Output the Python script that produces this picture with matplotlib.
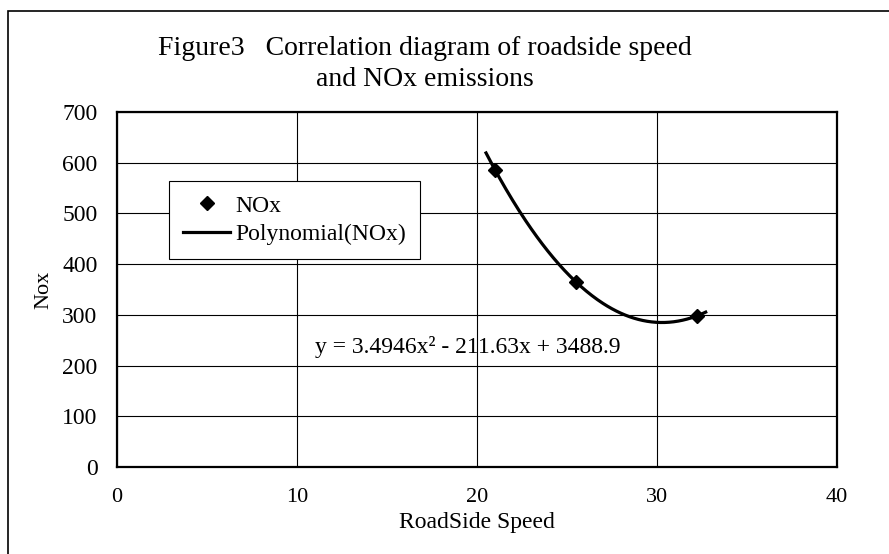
import numpy as np
import matplotlib
matplotlib.use("Agg")
import matplotlib.pyplot as plt
from matplotlib.patches import Rectangle

plt.rcParams["font.family"] = ["Liberation Serif", "DejaVu Serif"]

# data
speed = [21.0, 25.5, 32.2]
nox = [585, 365, 298]
# trendline coefficients as printed on the chart (x^2, x, 1)
coef = [3.4946, -211.63, 3488.9]
trend_range = [20.5, 32.7]
x_ticks = [0, 10, 20, 30, 40]
y_ticks = [0, 100, 200, 300, 400, 500, 600, 700]

fig = plt.figure(figsize=(8.89, 5.54), dpi=100)
ax = fig.add_axes([0.1316, 0.157, 0.81, 0.641])

# outer chart border (only left/top edges fall inside the image, as in the scan)
fig.patches.append(Rectangle((8 / 889, -0.05), 1.1, 1 - 11 / 554 + 0.05,
                             transform=fig.transFigure, fill=False,
                             edgecolor="black", lw=1.2, clip_on=False))

xs = np.linspace(trend_range[0], trend_range[1], 200)
ax.plot(xs, np.polyval(coef, xs), "-", color="black", lw=2.3,
        label="Polynomial(NOx)", zorder=3)
ax.plot(speed, nox, "D", color="black", ms=7.5, label="NOx", zorder=4)

ax.set_xlim(0, 40); ax.set_ylim(0, 700)
ax.set_xticks(x_ticks); ax.set_yticks(y_ticks)
ax.grid(True, color="black", lw=0.8)
ax.set_axisbelow(True)
ax.tick_params(axis="x", length=0, labelsize=16, pad=15)
ax.tick_params(axis="y", length=0, labelsize=17, pad=14)
for s in ax.spines.values():
    s.set_linewidth(1.6)

ax.set_xlabel("RoadSide Speed", fontsize=17, labelpad=4)
ax.set_ylabel("Nox", fontsize=16, labelpad=6)
fig.text(0.478, 0.884, "Figure3   Correlation diagram of roadside speed\nand NOx emissions",
         ha="center", va="center", fontsize=20, linespacing=1.3)

ax.text(11.0, 225, "y = 3.4946x² - 211.63x + 3488.9", fontsize=17,
        ha="left", va="baseline")

h, l = ax.get_legend_handles_labels()
leg = ax.legend([h[1], h[0]], [l[1], l[0]], loc="upper left",
                bbox_to_anchor=((169 - 117) / 720, 1 - (181 - 112) / 355),
                borderaxespad=0, fontsize=17,
                frameon=True, fancybox=False, edgecolor="black",
                handlelength=2.0, handletextpad=0.2, borderpad=0.6,
                labelspacing=0.3)
leg.get_frame().set_linewidth(0.8)
leg.get_frame().set_alpha(1)

fig.savefig("out.png", dpi=100)
